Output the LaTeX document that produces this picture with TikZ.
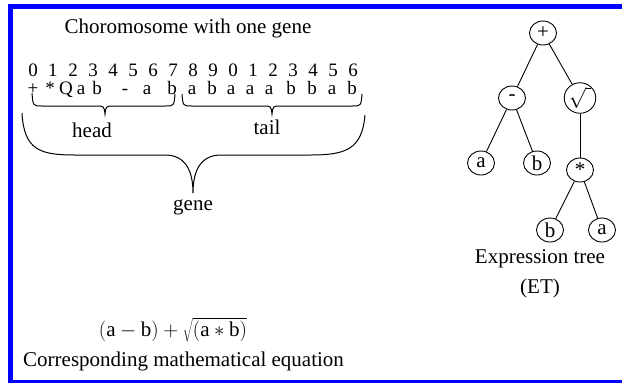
\documentclass[tikz,border=0pt]{standalone}
\usepackage{fontspec}
\setmainfont{Liberation Serif}
\usetikzlibrary{shapes.geometric}
\begin{document}
\begin{tikzpicture}[x=1pt,y=-1pt,
  font=\fontsize{21}{25}\selectfont,
  txt/.style={inner sep=0pt, anchor=base},
  rowtxt/.style={inner sep=0pt, anchor=base, font=\fontsize{19}{20}\selectfont},
  tn/.style={ellipse, draw, line width=0.9pt, minimum width=27pt, minimum height=24pt, inner sep=0pt},
  tedge/.style={line width=0.9pt},
  brace/.style={line width=1pt},
  frameline/.style={blue, line width=5pt}]
\useasboundingbox (0,0) rectangle (622,384);
\fill[white] (0,0) rectangle (622,384);
% frame
\draw[frameline] (10.5,383) -- (10.5,6.5) -- (622,6.5);
\draw[blue, line width=3pt] (8,381) -- (622,381);
% title
\node[txt] (title) at (188,33) {Choromosome with one gene};
% digits
\foreach \d [count=\i from 0] in {0,1,2,3,4,5,6,7,8,9,0,1,2,3,4,5,6}
  \node[rowtxt] (d\i) at (33+20*\i,76) {\d};
% letters
\foreach \x/\c [count=\i from 0] in {33/+,50/*,66/Q,81/a,97/b,125/-,147/a,172/b,192/a,212/b,231/a,250/a,269/a,291/b,312/b,332/a,352/b}
  \node[rowtxt] (l\i) at (\x,94) {\c};
% head brace
\draw[brace] (32,93) .. controls (33,106) .. (42,106) -- (96,106) .. controls (104,106) .. (105,114)
  .. controls (106,106) .. (114,106) -- (165,106) .. controls (174,106) .. (175,94);
\node[txt] (head) at (92,137) {head};
% tail brace
\draw[brace] (182,94) .. controls (183,106) .. (192,106) -- (263,106) .. controls (271,106) .. (272,114)
  .. controls (273,106) .. (281,106) -- (352,106) .. controls (361,106) .. (362,94);
\node[txt] (tail) at (267,134) {tail};
% gene brace
\draw[brace] (22,113) .. controls (24,150) and (40,155) .. (75,155) -- (165,155)
  .. controls (185,155) and (193,170) .. (193,193)
  .. controls (193,170) and (201,155) .. (221,155) -- (310,155)
  .. controls (345,155) and (362,150) .. (365,115);
\node[txt] (gene) at (193,210) {gene};
% equation
\node[txt] (eq) at (173,336) {$\mathrm{(a-b)+\sqrt{(a*b)}}$};
\node[txt, anchor=base west] (corr) at (23,366) {Corresponding mathematical equation};
% tree
\node[tn] (plus) at (543,33) {+};
\node[tn] (minus) at (512,98) {-};
\node[tn] (sq) at (580,98) {$\sqrt{\vphantom{a}\hspace{5pt}}$};
\node[tn] (a1) at (481,163) {a};
\node[tn] (b1) at (537,163) {b};
\node[tn] (mul) at (580,170) {*};
\node[tn] (b2) at (550,230) {b};
\node[tn] (a2) at (602,230) {a};
\draw[tedge] (plus) -- (minus);
\draw[tedge] (plus) -- (sq);
\draw[tedge] (minus) -- (a1);
\draw[tedge] (minus) -- (b1);
\draw[tedge] (sq) -- (mul);
\draw[tedge] (mul) -- (b2);
\draw[tedge] (mul) -- (a2);
\node[txt] (et1) at (540,263) {Expression tree};
\node[txt] (et2) at (540,293) {(ET)};
\end{tikzpicture}
\end{document}
